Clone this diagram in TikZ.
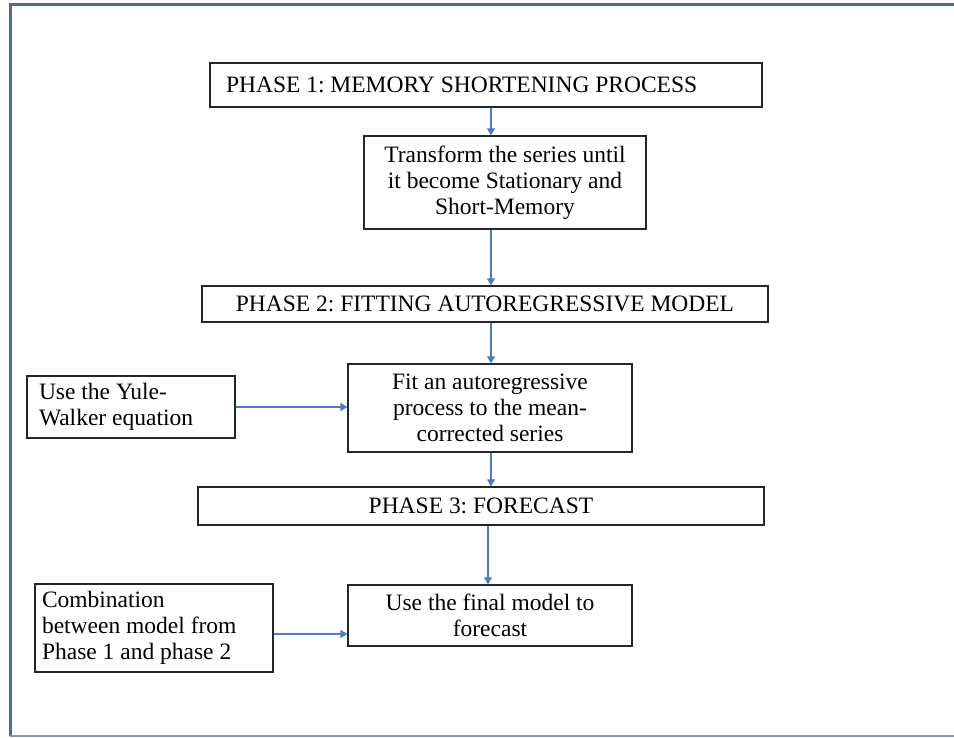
\documentclass[tikz,border=0pt]{standalone}
\usepackage{fontspec}
\setmainfont{Liberation Serif}
\usetikzlibrary{arrows.meta,calc}
\definecolor{framec}{HTML}{4A6C98}
\definecolor{framelt}{HTML}{8098B8}
\definecolor{arrc}{HTML}{4A7EBB}
\frenchspacing
\begin{document}
\begin{tikzpicture}[x=1pt,y=-1pt,
  box/.style={draw=black!85,line width=1.3pt,fill=white,inner sep=0pt,
    font=\fontsize{23.5}{26}\selectfont},
  cbox/.style={box,align=center},
  lbox/.style={box,align=flush left},
  arr/.style={draw=arrc,line width=1.2pt,-{Triangle[width=8pt,length=7pt]}}]
\useasboundingbox (0,0) rectangle (954,738);
% outer frame
\draw[framec,line width=3pt] (960,5) -- (10,5) -- (10,736);
\draw[framelt,line width=1.6pt] (10,736) -- (960,736);
% boxes
\node[lbox,minimum width=552pt,minimum height=44pt,text width=520pt,inner xsep=16pt] (p1) at (486,85) {PHASE 1: MEMORY SHORTENING PROCESS};
\node[cbox,minimum width=282pt,minimum height=93pt] (tr) at (505,182.5) {Transform the series until\\it become Stationary and\\Short-Memory};
\node[cbox,minimum width=566pt,minimum height=36pt] (p2) at (485,304) {PHASE 2: FITTING AUTOREGRESSIVE MODEL};
\node[cbox,minimum width=284pt,minimum height=88pt] (fit) at (490,408) {Fit an autoregressive\\process to the mean-\\corrected series};
\node[lbox,minimum width=206pt,minimum height=62pt,text width=184pt,inner xsep=12pt] (yw) at (131,407) {Use the Yule-\\Walker equation};
\node[cbox,minimum width=566pt,minimum height=38pt] (p3) at (481,506) {PHASE 3: FORECAST};
\node[cbox,minimum width=284pt,minimum height=61pt] (fc) at (490,615.5) {Use the final model to\\forecast};
\node[lbox,minimum width=236pt,minimum height=88pt,text width=224pt,inner xsep=7pt] (cb) at (154,628) {Combination\\between model from\\Phase 1 and phase 2};
% spine coordinates
\coordinate (s1) at (491,0);
\coordinate (s2) at (488,0);
% connectors
\draw[arr] (p1.south -| s1) -- (tr.north -| s1);
\draw[arr] (tr.south -| s1) -- (p2.north -| s1);
\draw[arr] (p2.south -| s1) -- (fit.north -| s1);
\draw[arr] (fit.south -| s1) -- (p3.north -| s1);
\draw[arr] (p3.south -| s2) -- (fc.north -| s2);
\draw[arr] (yw.east) -- (yw.east -| fit.west);
\draw[arr] ([yshift=-6pt]cb.east) -- ([yshift=-6pt]cb.east -| fc.west);
\end{tikzpicture}
\end{document}
